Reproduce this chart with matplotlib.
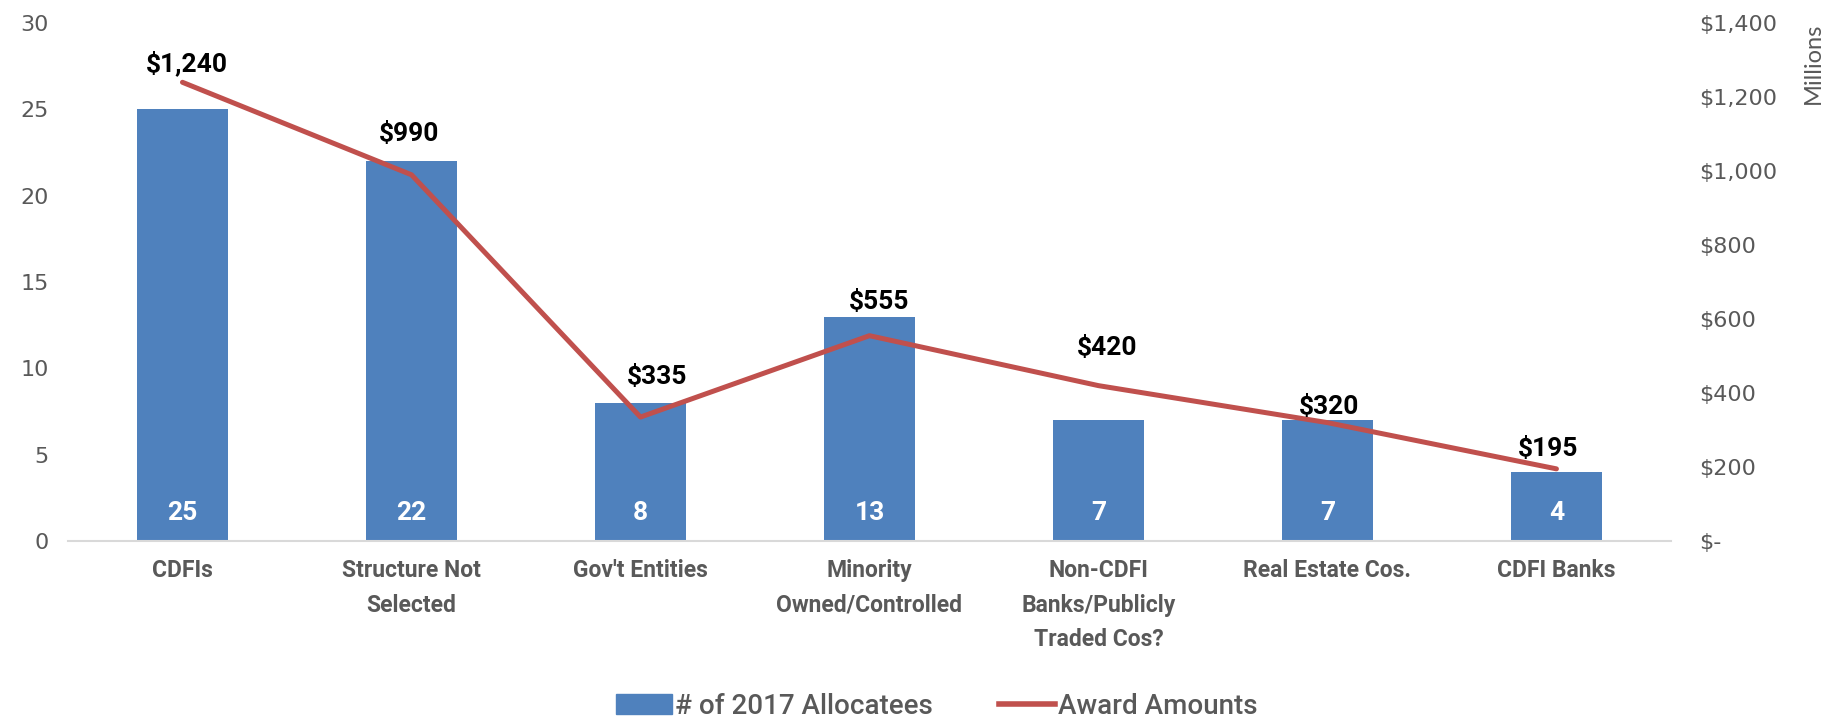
import numpy as np
import matplotlib.pyplot as plt
from matplotlib.patches import Patch
from matplotlib.lines import Line2D
from matplotlib.ticker import FuncFormatter

categories = ["CDFIs", "Structure Not\nSelected", "Gov't Entities", "Minority\nOwned/Controlled",
              "Non-CDFI\nBanks/Publicly\nTraded Cos?", "Real Estate Cos.", "CDFI Banks"]
allocatees = [25, 22, 8, 13, 7, 7, 4]
award_millions = [1240, 990, 335, 555, 420, 320, 195]

# label nudges (points) so the $ labels sit like the original
label_dx = [3, -2, 12, 7, 6, 1, -6]
label_dy = [14, 29, 29, 24, 27, 11, 14]

blue = "#4F81BD"
red = "#C0504D"
grey = "#595959"
bold_font = ["Roboto", "DejaVu Sans"]

plt.rcParams['font.family'] = ['Lato', 'DejaVu Sans']

fig = plt.figure(figsize=(18.37, 7.22), dpi=100)
ax = fig.add_axes([0.037, 0.2507, 0.8726, 0.7173])
ax2 = ax.twinx()

x = np.arange(len(categories))
ax.bar(x, allocatees, width=0.4, color=blue, zorder=2)
for xi, v in zip(x, allocatees):
    ax.annotate(str(v), (xi, 0), xytext=(0, 20), textcoords="offset points",
                ha="center", va="center", color="white", fontsize=19,
                fontweight="bold", family=bold_font)

ax2.plot(x, award_millions, color=red, lw=3.6, solid_capstyle="round", zorder=3)
for xi, v, dx, dy in zip(x, award_millions, label_dx, label_dy):
    ax2.annotate(f"${v:,}", (xi, v), xytext=(dx, dy), textcoords="offset points",
                 ha="center", va="center", color="black", fontsize=19,
                 fontweight="bold", family=bold_font)

ax.set_xlim(-0.5, len(categories) - 0.5)
ax.set_ylim(0, 30)
ax.set_yticks(range(0, 31, 5))
ax2.set_ylim(0, 1400)
ax2.set_yticks(range(0, 1401, 200))
ax2.yaxis.set_major_formatter(FuncFormatter(lambda v, p: "$-" if v == 0 else f"${v:,.0f}"))

ax.set_xticks(x)
ax.set_xticklabels(categories, fontweight="bold", color=grey, fontsize=16.5,
                   linespacing=1.65, family=bold_font)
ax.tick_params(axis="x", length=0, pad=13)
ax.tick_params(axis="y", length=0, pad=14, labelcolor=grey)
ax2.tick_params(axis="y", length=0, pad=20, labelcolor=grey)
for lab in ax.get_yticklabels() + ax2.get_yticklabels():
    lab.set_family("DejaVu Sans")
    lab.set_fontsize(16)
for lab in ax2.get_yticklabels():
    lab.set_ha("left")

for a in (ax, ax2):
    for s in ("top", "left", "right"):
        a.spines[s].set_visible(False)
    a.spines["bottom"].set_color("#D9D9D9")
    a.spines["bottom"].set_linewidth(1.5)
ax2.spines["bottom"].set_visible(False)

fig.text(0.987, 0.968, "Millions", rotation=90, ha="center", va="top",
         fontsize=17, color=grey)

handles = [Patch(color=blue, label="# of 2017 Allocatees"),
           Line2D([0], [0], color=red, lw=4, label="Award Amounts")]
fig.legend(handles=handles, loc="center", bbox_to_anchor=(0.51, 0.022), ncol=2, frameon=False,
           prop={"size": 20, "weight": "medium", "family": ["Roboto", "DejaVu Sans"]},
           labelcolor=grey, handlelength=2.0, handletextpad=0.1, columnspacing=2.4)

fig.savefig("out.png", dpi=100)
